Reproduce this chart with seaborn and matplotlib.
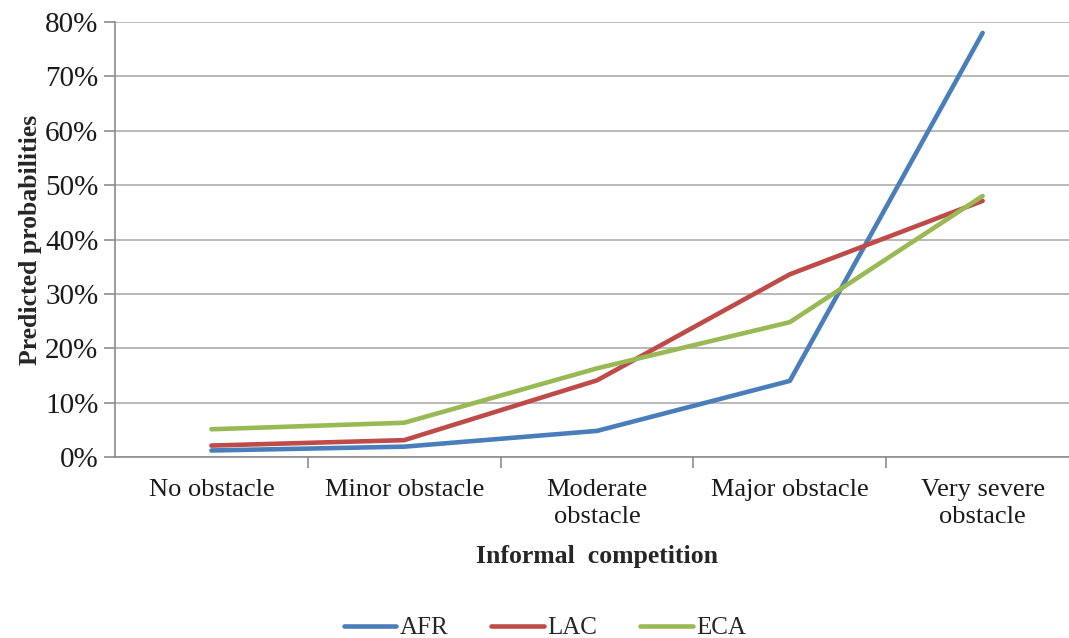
import pandas as pd
import matplotlib
matplotlib.use('Agg')
import matplotlib.pyplot as plt
from matplotlib.ticker import FuncFormatter, FixedLocator
import seaborn as sns

# ---- data ----
categories = ['No obstacle', 'Minor obstacle', 'Moderate\nobstacle',
              'Major obstacle', 'Very severe\nobstacle']
afr = [1.2, 1.9, 4.8, 14.0, 78.0]
lac = [2.1, 3.1, 14.1, 33.6, 47.1]
eca = [5.1, 6.3, 16.3, 24.8, 48.0]
regions = ['AFR', 'LAC', 'ECA']
colors = {'AFR': '#4A7EBB', 'LAC': '#BE4B48', 'ECA': '#98B954'}

rows = []
for name, vals in zip(regions, [afr, lac, eca]):
    for i, (cat, v) in enumerate(zip(categories, vals)):
        rows.append({'pos': i, 'category': cat, 'region': name, 'prob': v / 100})
df = pd.DataFrame(rows)

sns.set_style('white')
plt.rcParams['font.family'] = ['Liberation Serif', 'DejaVu Serif']

fig = plt.figure(figsize=(10.69, 6.38), dpi=100)
ax = fig.add_axes([0.1076, 0.2837, 0.9018, 0.6818])

sns.lineplot(data=df, x='pos', y='prob', hue='region', hue_order=regions,
             palette=colors, linewidth=3.3, sort=False, ax=ax)

ax.set_xlim(-0.5, len(categories) - 0.5)
ax.set_ylim(0, 0.8)
ax.set_yticks([i / 10 for i in range(9)])
ax.yaxis.set_major_formatter(FuncFormatter(lambda v, p: f'{v*100:.0f}%'))
ax.grid(True, axis='y', color='#a6a6a6', linewidth=1.1)
ax.set_axisbelow(True)

# category labels centred, tick marks between categories
ax.set_xticks(range(len(categories)))
ax.set_xticklabels(categories, linespacing=1.3)
ax.xaxis.set_minor_locator(FixedLocator([i + 0.5 for i in range(len(categories))]))
ax.tick_params(axis='x', which='major', length=0, pad=16, labelsize=19, colors='#1a1a1a')
ax.tick_params(axis='x', which='minor', length=8, width=1.2, color='#8c8c8c', direction='out', bottom=True)
ax.tick_params(axis='y', length=8, width=1.2, color='#8c8c8c', direction='out', left=True,
               labelsize=21, pad=4, colors='#1a1a1a')

for s in ['top', 'right']:
    ax.spines[s].set_visible(False)
for s in ['left', 'bottom']:
    ax.spines[s].set_color('#8c8c8c')
    ax.spines[s].set_linewidth(1.2)

ax.set_xlabel('Informal  competition', fontsize=18.5, fontweight='bold', labelpad=12)
ax.set_ylabel('Predicted probabilities', fontsize=18.5, fontweight='bold', labelpad=2)

leg = ax.legend(loc='center', bbox_to_anchor=((545 / 1069 - 0.1076) / 0.9018, (1 - 628 / 638 - 0.2837) / 0.6818),
                ncol=3, frameon=False, fontsize=18, handlelength=2.1,
                handletextpad=0.15, columnspacing=1.7, title=None)
for line in leg.get_lines():
    line.set_linewidth(3.3)

plt.savefig('out.png', dpi=100)
plt.close()
